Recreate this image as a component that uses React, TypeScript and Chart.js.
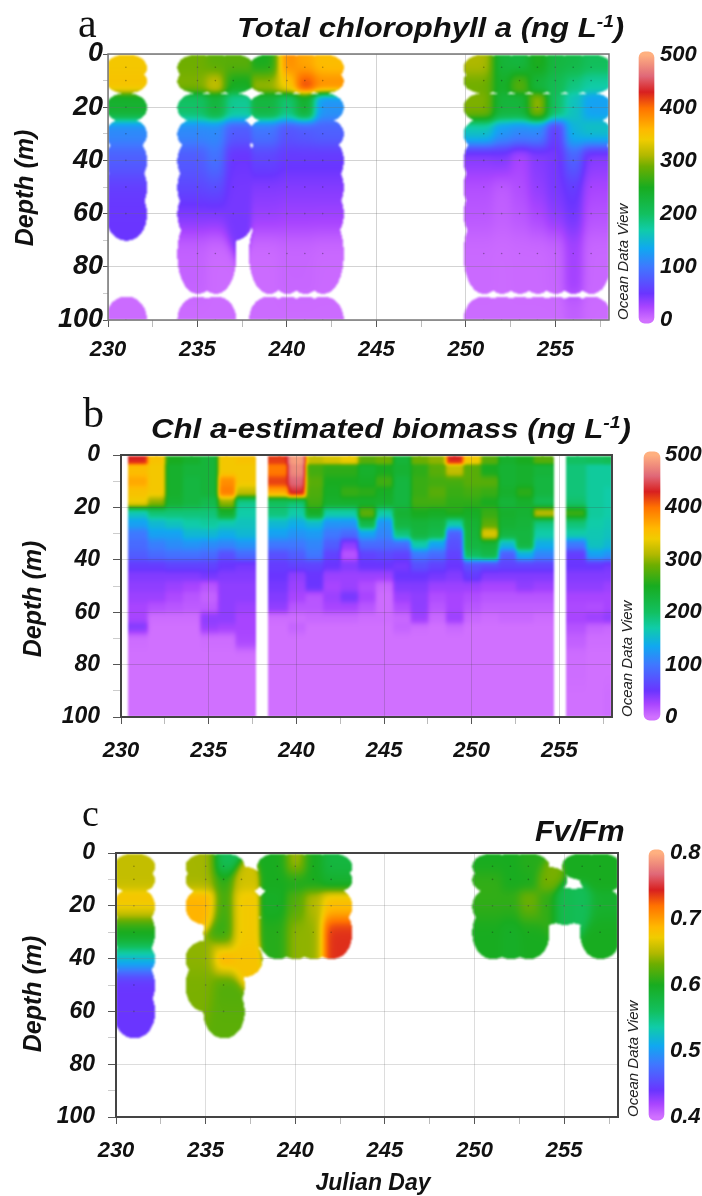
import React, { useEffect, useRef } from "react";
import { Chart, registerables } from "chart.js";
Chart.register(...registerables);

const xTicksFont = "'Liberation Sans'";

// ---------- Panel a: total chlorophyll a ----------
const aDays = [231, 235, 236, 237, 239, 240, 241, 242, 251, 252, 253, 254, 255, 256, 257];
const aDepths = [5, 10, 20, 30, 40, 50, 60, 75, 100];
const aRadii = [5, 4.6, 5.5, 6, 9, 10, 10, 15, 9];
const aValues = [
  [345, 290, 280, 280, 250, 385, 370, 355, 310, 230, 225, 255, 225, 220, 205],
  [350, 295, 325, 245, 305, 345, 420, 385, 290, 240, 285, 225, 210, 185, 170],
  [238, 198, 228, 178, 225, 190, 240, 120, 295, 228, 228, 305, 198, 160, 130],
  [115, 115, 115, 80, 100, 75, 80, 85, 170, 130, 120, 120, 55, 150, 165],
  [85, 80, 100, 50, 65, 55, 55, 55, 40, 45, 25, 40, 45, 90, 40],
  [55, 65, 70, 45, 40, 40, 40, 40, 18, 10, 20, 35, 45, 55, 25],
  [50, 45, 45, 45, 35, 32, 32, 32, 15, 10, 15, 25, 40, 50, 18],
  [null, 8, 3, null, 3, 6, 6, 4, 4, 3, 4, 4, 6, 28, 5],
  [3, 3, 3, null, 3, 3, 3, 3, 3, 3, 3, 3, 3, 10, 3],
];

// ---------- Panel b: Chl a-estimated biomass ----------
const bDays = [231, 232, 233, 234, 235, 236, 237, 239, 240, 241, 242, 243, 244, 245, 246, 247, 248, 249, 250, 251, 252, 253, 254, 256, 257, 258];
const bDepths = [2, 6, 10, 14, 18, 22, 26, 30, 34, 38, 42, 46, 50, 54, 58, 62, 66, 70, 80, 100];
const bRadii = [2, 4, 4, 4, 4, 4, 4, 4, 4, 4, 4, 4, 4, 4, 4, 4, 4, 6, 12, 20];
const bProfiles = [
  [430, 355, 370, 350, 340, 160, 130, 100, 90, 80, 55, 40, 35, 30, 25, 25, 45, 2, 0, 0],
  [350, 345, 345, 345, 300, 190, 150, 130, 105, 90, 55, 40, 35, 30, 18, 2, 0, 0, 0, 0],
  [250, 240, 240, 240, 235, 190, 160, 130, 115, 95, 60, 40, 30, 22, 15, 2, 0, 0, 0, 0],
  [240, 230, 225, 225, 225, 190, 170, 150, 120, 95, 60, 40, 25, 15, 12, 2, 0, 0, 0, 0],
  [230, 230, 230, 230, 215, 190, 175, 150, 115, 90, 60, 45, 15, 8, 12, 35, 35, 2, 0, 0],
  [345, 345, 385, 395, 300, 240, 165, 140, 110, 70, 50, 40, 35, 35, 35, 35, 30, 2, 0, 0],
  [350, 345, 345, 320, 180, 170, 160, 150, 120, 90, 45, 40, 35, 35, 30, 25, 25, 25, 0, 0],
  [420, 395, 420, 370, 200, 190, 150, 130, 100, 70, 55, 50, 45, 40, 35, 2, 0, 0, 0, 0],
  [490, 480, 460, 440, 190, 170, 140, 120, 100, 80, 60, 35, 30, 25, 15, 2, 8, 0, 0, 0],
  [320, 270, 280, 275, 270, 245, 150, 125, 110, 100, 60, 50, 50, 15, 15, 5, 0, 0, 0, 0],
  [330, 260, 250, 245, 240, 170, 120, 100, 80, 60, 50, 30, 25, 30, 25, 5, 0, 0, 0, 0],
  [340, 260, 250, 265, 240, 170, 120, 90, 35, 15, 40, 30, 30, 45, 25, 5, 0, 0, 0, 0],
  [280, 240, 245, 260, 240, 285, 220, 130, 90, 60, 50, 30, 20, 25, 15, 2, 0, 0, 0, 0],
  [290, 250, 270, 245, 240, 170, 120, 110, 90, 65, 50, 30, 5, 2, 2, 2, 0, 0, 0, 0],
  [230, 235, 225, 225, 225, 235, 225, 190, 90, 60, 45, 50, 40, 30, 20, 5, 8, 0, 0, 0],
  [290, 260, 265, 265, 270, 250, 230, 225, 170, 100, 70, 50, 40, 35, 35, 30, 2, 0, 0, 0],
  [300, 280, 270, 280, 270, 245, 225, 215, 130, 90, 60, 45, 30, 20, 15, 5, 0, 0, 0, 0],
  [430, 320, 270, 265, 260, 255, 170, 80, 70, 60, 50, 40, 30, 25, 25, 30, 5, 0, 0, 0],
  [345, 280, 280, 270, 260, 245, 235, 230, 225, 205, 70, 55, 30, 20, 15, 5, 0, 0, 0, 0],
  [280, 250, 280, 265, 250, 265, 280, 335, 230, 220, 65, 40, 25, 15, 10, 2, 0, 0, 0, 0],
  [240, 235, 235, 240, 230, 240, 235, 225, 150, 80, 60, 40, 25, 15, 10, 5, 0, 0, 0, 0],
  [250, 240, 240, 260, 240, 235, 230, 225, 225, 140, 60, 40, 35, 15, 10, 5, 0, 0, 0, 0],
  [280, 230, 225, 225, 210, 320, 185, 170, 140, 110, 60, 40, 30, 15, 10, 2, 0, 0, 0, 0],
  [200, 190, 190, 190, 195, 270, 190, 170, 100, 55, 50, 40, 35, 25, 22, 25, 18, 10, 2, 0],
  [205, 175, 175, 175, 175, 175, 170, 165, 160, 130, 50, 40, 35, 25, 20, 30, 8, 2, 0, 0],
  [210, 175, 175, 170, 170, 170, 165, 160, 150, 120, 45, 40, 30, 25, 25, 35, 5, 2, 0, 2],
];

// ---------- Panel c: Fv/Fm ----------
const cDays = [231, 235, 236, 237, 239, 240, 241, 242, 251, 252, 253, 254, 255, 256, 257];
const cDepths = [5, 10, 20, 30, 40, 50, 60];
const cRadii = [5, 5, 7, 10, 7, 10, 10];
const cValues = [
  [0.655, 0.645, 0.565, null, 0.6, 0.645, 0.6, 0.58, 0.6, 0.6, 0.605, null, null, 0.6, 0.6],
  [0.655, 0.645, 0.61, 0.66, 0.6, 0.6, 0.6, 0.59, 0.61, 0.6, 0.6, 0.635, null, null, 0.6],
  [0.685, 0.69, 0.615, 0.675, 0.595, 0.62, 0.65, 0.675, 0.61, 0.61, 0.635, 0.61, 0.57, 0.565, 0.59],
  [0.6, null, 0.61, 0.675, 0.605, 0.64, 0.64, 0.74, 0.6, 0.595, 0.6, null, null, null, 0.6],
  [0.52, 0.64, 0.715, 0.68, null, null, null, null, null, null, null, null, null, null, null],
  [0.44, 0.635, 0.62, null, null, null, null, null, null, null, null, null, null, null, null],
  [0.44, null, 0.625, null, null, null, null, null, null, null, null, null, null, null, null],
];

// ---------- Axes and colour bars ----------
const dayMin = 230;
const dayMax = 258;
const depthMin = 0;
const depthMax = 100;
const chlBar = [0, 500];
const fvBar = [0.4, 0.8];
const colourStops: [number, string][] = [
  [0, "#d070ff"], [0.05, "#a844ff"], [0.1, "#6a35ff"], [0.2, "#3f78ff"], [0.27, "#10a8f0"],
  [0.34, "#10cca8"], [0.4, "#12c060"], [0.5, "#18ac20"], [0.58, "#6eae00"], [0.62, "#b0b800"],
  [0.68, "#f0cc00"], [0.72, "#ffb800"], [0.8, "#ff7200"], [0.86, "#d82020"], [0.92, "#e06878"], [1, "#ffb080"],
];

const stopRgb = colourStops.map(([t, h]) => [t, parseInt(h.slice(1, 3), 16), parseInt(h.slice(3, 5), 16), parseInt(h.slice(5, 7), 16)]);
function colourAt(t: number) {
  const u = Math.max(0, Math.min(1, t));
  for (let i = 1; i < stopRgb.length; i++) {
    const a = stopRgb[i - 1], b = stopRgb[i];
    if (u <= b[0]) {
      const f = (u - a[0]) / (b[0] - a[0]);
      return [a[1] + (b[1] - a[1]) * f, a[2] + (b[2] - a[2]) * f, a[3] + (b[3] - a[3]) * f];
    }
  }
  return [255, 176, 128];
}

function rowsToPoints(days: number[], depths: number[], radii: number[], rows: (number | null)[][]) {
  const out: any[] = [];
  depths.forEach((d, r) => days.forEach((day, c) => {
    const v = rows[r][c];
    if (v !== null) out.push({ x: day, y: d, v, ry: radii[r] });
  }));
  return out;
}
const aPoints = rowsToPoints(aDays, aDepths, aRadii, aValues);
const bPoints = rowsToPoints(bDays, bDepths, bRadii, bDepths.map((_, r) => bProfiles.map((p) => p[r])));
const cPoints = rowsToPoints(cDays, cDepths, cRadii, cValues);

// Paints the gridded field under the samples, through the chart's own scales.
const fieldPlugin = {
  id: "field",
  beforeDatasetsDraw(chart: any, _a: any, o: any) {
    const { left, top, width, height } = chart.chartArea;
    const W = Math.ceil(width), H = Math.ceil(height);
    if (!chart.$field) {
      const xs = chart.scales.x, ys = chart.scales.y;
      const pxDay = xs.getPixelForValue(dayMin + 1) - xs.getPixelForValue(dayMin);
      const pxM = ys.getPixelForValue(depthMin + 1) - ys.getPixelForValue(depthMin);
      const pts = chart.data.datasets[0].data.map((p: any) => ({
        px: xs.getPixelForValue(p.x) - left,
        py: ys.getPixelForValue(p.y) - top,
        t: (p.v - o.min) / (o.max - o.min),
        ry: p.ry * pxM,
        sy: p.ry * pxM * o.syF,
      }));
      const rx = o.rx * pxDay, sx = o.sx * pxDay;
      const off = document.createElement("canvas");
      off.width = W; off.height = H;
      const c = off.getContext("2d")!;
      const img = c.createImageData(W, H);
      for (let x = 0; x < W; x++) {
        const cand = pts.filter((p: any) => Math.abs(p.px - x) <= Math.max(rx, sx * 4));
        for (let y = 0; y < H; y++) {
          let inside = false, sw = 0, sv = 0;
          for (const p of cand) {
            const dx = x - p.px, dy = y - p.py;
            const ax = Math.abs(dx) / rx, ay = Math.abs(dy) / p.ry;
            if (!inside && Math.pow(ax, o.power) + Math.pow(ay, o.power) <= 1) inside = true;
            const w = Math.exp(-(dx * dx) / (sx * sx) - (dy * dy) / (p.sy * p.sy)) + 1e-12;
            sw += w; sv += w * p.t;
          }
          if (!inside) continue;
          const col = colourAt(sv / sw);
          const i = (y * W + x) * 4;
          img.data[i] = col[0]; img.data[i + 1] = col[1]; img.data[i + 2] = col[2]; img.data[i + 3] = 255;
        }
      }
      c.putImageData(img, 0, 0);
      chart.$field = off;
    }
    const g = chart.ctx;
    g.save();
    g.beginPath();
    g.rect(left, top, width, height);
    g.clip();
    g.filter = "blur(1px)";
    g.drawImage(chart.$field, left, top);
    g.restore();
  },
};

// Frame, panel letter, title and axis titles.
const textPlugin = {
  id: "texts",
  afterDraw(chart: any, _a: any, o: any) {
    const g = chart.ctx, a = chart.chartArea;
    g.save();
    g.strokeStyle = o.frame; g.lineWidth = o.frameWidth;
    g.strokeRect(a.left, a.top, a.width, a.height);
    g.fillStyle = "#111";
    g.textBaseline = "alphabetic";
    for (const n of o.notes) {
      g.save();
      g.translate(n.x, n.y - o.top);
      if (n.rot) g.rotate(n.rot);
      if (n.sx) g.scale(n.sx, 1);
      g.textAlign = n.rot || n.center ? "center" : "left";
      let cx = 0;
      for (const part of n.parts) {
        g.font = part.font;
        g.fillText(part.t, cx, part.dy || 0);
        cx += g.measureText(part.t).width;
      }
      g.restore();
    }
    g.restore();
  },
};

const bi = (s: number) => `italic bold ${s}px 'Liberation Sans'`;
const serif = (s: number) => `${s}px 'Liberation Serif'`;
const titleParts = (t: string, size: number) => [
  { t, font: bi(size) },
  { t: "-1", font: bi(size * 0.62), dy: -size * 0.36 },
  { t: ")", font: bi(size) },
];

function PanelChart(p: any) {
  const ref = useRef<HTMLCanvasElement>(null);
  useEffect(() => {
    const chart = new Chart(ref.current!, {
      type: "scatter",
      data: {
        datasets: [{
          label: p.name,
          data: p.points,
          pointRadius: p.dot,
          pointBackgroundColor: "rgba(20,20,20,0.35)",
          pointBorderWidth: 0,
        }],
      },
      plugins: [fieldPlugin, textPlugin],
      options: {
        responsive: false,
        animation: false,
        layout: { padding: { top: p.plotTop - p.top, right: p.w - p.plotRight, left: 0, bottom: 0 } },
        plugins: {
          legend: { display: false },
          tooltip: { enabled: false },
          field: p.field,
          texts: { notes: p.notes, top: p.top, frame: p.frame, frameWidth: p.frameWidth },
        },
        scales: {
          x: {
            type: "linear",
            min: dayMin,
            max: dayMax,
            afterFit(s: any) { s.height = p.top + p.h - p.plotBottom; },
            border: { display: false },
            grid: {
              z: 1,
              tickLength: 7,
              color: (c: any) => (c.tick && c.tick.value % 5 === 0 ? p.gridColor : "transparent"),
              tickColor: (c: any) => (c.tick && c.tick.value % 5 === 0 ? "#555" : "#bbb"),
            },
            ticks: {
              stepSize: 2.5,
              includeBounds: false,
              autoSkip: false,
              maxRotation: 0,
              padding: p.xPad,
              color: "#111",
              font: { family: xTicksFont, size: 22, style: "italic", weight: "bold" },
              callback: (v: any) => (v % 5 === 0 ? String(v) : ""),
            },
          },
          y: {
            type: "linear",
            reverse: true,
            min: depthMin,
            max: depthMax,
            afterFit(s: any) { s.width = p.plotLeft; },
            border: { display: false },
            grid: {
              z: 1,
              tickLength: p.yTick,
              color: (c: any) => (c.tick && c.tick.value % 20 === 0 ? p.gridColor : "transparent"),
              tickColor: (c: any) => (c.tick && c.tick.value % 20 === 0 ? "#555" : "#ccc"),
            },
            ticks: {
              stepSize: 10,
              autoSkip: false,
              padding: p.yPad,
              color: "#111",
              font: { family: xTicksFont, size: p.yFont, style: "italic", weight: "bold" },
              callback: (v: any) => (v % 20 === 0 ? String(v) : ""),
            },
          },
        },
      } as any,
    } as any);
    return () => chart.destroy();
  }, []);
  return <canvas ref={ref} width={p.w} height={p.h} style={{ position: "absolute", left: 0, top: p.top, width: p.w, height: p.h }} />;
}

function ColourBar(p: any) {
  const ref = useRef<HTMLCanvasElement>(null);
  useEffect(() => {
    const over = (p.range[1] - p.range[0]) * 0.012;
    const chart = new Chart(ref.current!, {
      type: "bar",
      data: {
        labels: [p.name],
        datasets: [{
          data: [[p.range[0] - over, p.range[1] + over]],
          yAxisID: "y",
          clip: false,
          barPercentage: 1,
          categoryPercentage: 1,
          borderRadius: 6,
          borderSkipped: false,
          backgroundColor: (c: any) => {
            const s = c.chart.scales.y;
            if (!s || !c.chart.chartArea) return "#888";
            const g = c.chart.ctx.createLinearGradient(0, s.getPixelForValue(p.range[0]), 0, s.getPixelForValue(p.range[1]));
            colourStops.forEach(([t, h]) => g.addColorStop(t, h));
            return g;
          },
        }],
      },
      options: {
        responsive: false,
        animation: false,
        layout: { padding: { top: 20, bottom: 20, left: 0, right: 0 } },
        plugins: { legend: { display: false }, tooltip: { enabled: false } },
        scales: {
          x: { display: false },
          y: {
            position: "right",
            min: p.range[0],
            max: p.range[1],
            afterFit(s: any) { s.width = p.w - p.barRight; },
            border: { display: false },
            grid: { display: false, drawTicks: false },
            ticks: {
              stepSize: p.step,
              padding: p.pad,
              color: "#111",
              font: { family: xTicksFont, size: 22, style: "italic", weight: "bold" },
              callback: (v: any) => (p.step < 1 ? Number(v).toFixed(1) : String(v)),
            },
          },
          y2: {
            position: "left",
            min: p.range[0],
            max: p.range[1],
            afterFit(s: any) { s.width = p.barLeft; },
            border: { display: false },
            grid: { display: false, drawTicks: false },
            ticks: { display: false },
            title: {
              display: true,
              text: "Ocean Data View",
              align: "start",
              color: "#222",
              padding: { top: 3, bottom: 0 },
              font: { family: xTicksFont, size: 15, style: "italic" },
            },
          },
        },
      } as any,
    } as any);
    return () => chart.destroy();
  }, []);
  return <canvas ref={ref} width={p.w} height={p.h} style={{ position: "absolute", left: p.left, top: p.top, width: p.w, height: p.h }} />;
}

export default function App() {
  return (
    <div style={{ position: "absolute", left: 0, top: 0, width: 702, height: 1196, background: "#fff", overflow: "hidden" }}>
      <PanelChart
        name="Total chlorophyll a" points={aPoints} top={0} h={380} w={640}
        plotLeft={108} plotRight={609} plotTop={54} plotBottom={320} xPad={10} yFont={27} yTick={5} yPad={0} dot={0.8}
        frame="#777" frameWidth={1.5} gridColor="rgba(110,110,110,0.3)"
        field={{ min: chlBar[0], max: chlBar[1], rx: 1.15, sx: 0.55, syF: 0.8, power: 2.1 }}
        notes={[
          { x: 78, y: 37, parts: [{ t: "a", font: serif(42) }] },
          { x: 237, y: 37, sx: 1.11, parts: titleParts("Total chlorophyll a (ng L", 28) },
          { x: 33, y: 188, rot: -Math.PI / 2, parts: [{ t: "Depth (m)", font: bi(25) }] },
        ]}
      />
      <ColourBar name="Total chlorophyll a scale" range={chlBar} step={100} left={612} top={35} w={90} h={305} barLeft={27} barRight={42} pad={6} />
      <PanelChart
        name="Chl a-estimated biomass" points={bPoints} top={385} h={390} w={640}
        plotLeft={121} plotRight={612} plotTop={455} plotBottom={717} xPad={14} yFont={23} yTick={8} yPad={13} dot={0}
        frame="#444" frameWidth={2} gridColor="rgba(70,70,70,0.22)"
        field={{ min: chlBar[0], max: chlBar[1], rx: 0.65, sx: 0.33, syF: 0.55, power: 8 }}
        notes={[
          { x: 83, y: 427, parts: [{ t: "b", font: serif(42) }] },
          { x: 151, y: 438, sx: 1.114, parts: titleParts("Chl a-estimated biomass (ng L", 28) },
          { x: 41, y: 599, rot: -Math.PI / 2, parts: [{ t: "Depth (m)", font: bi(25) }] },
        ]}
      />
      <ColourBar name="Chl a-estimated biomass scale" range={chlBar} step={100} left={616} top={435} w={86} h={302} barLeft={28} barRight={44} pad={5} />
      <PanelChart
        name="Fv/Fm" points={cPoints} top={795} h={401} w={640}
        plotLeft={116} plotRight={618} plotTop={853} plotBottom={1117} xPad={14} yFont={23} yTick={8} yPad={13} dot={0.8}
        frame="#444" frameWidth={2} gridColor="rgba(120,120,120,0.25)"
        field={{ min: fvBar[0], max: fvBar[1], rx: 1.15, sx: 0.55, syF: 0.8, power: 2.1 }}
        notes={[
          { x: 82, y: 826, parts: [{ t: "c", font: serif(38) }] },
          { x: 535, y: 841, sx: 1.05, parts: [{ t: "Fv/Fm", font: bi(29) }] },
          { x: 41, y: 994, rot: -Math.PI / 2, parts: [{ t: "Depth (m)", font: bi(25) }] },
          { x: 373, y: 1190, center: true, parts: [{ t: "Julian Day", font: bi(23) }] },
        ]}
      />
      <ColourBar name="Fv/Fm scale" range={fvBar} step={0.1} left={622} top={833} w={80} h={304} barLeft={27} barRight={42} pad={6} />
    </div>
  );
}
